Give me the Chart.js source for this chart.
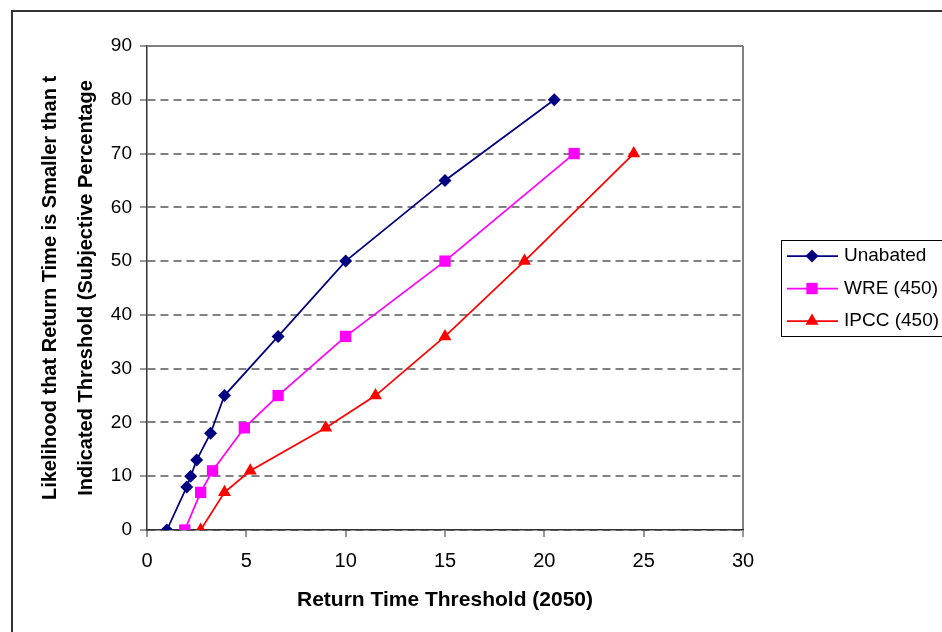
<!DOCTYPE html>
<html>
<head>
<meta charset="utf-8">
<script src="https://cdn.jsdelivr.net/npm/chart.js@4/dist/chart.umd.min.js"></script>
<style>
  html, body { margin: 0; padding: 0; background: #fff; overflow: hidden; }
  #wrap { position: relative; width: 942px; height: 632px; overflow: hidden; }
  #frame { position: absolute; left: 11px; top: 10px; width: 1000px; height: 1000px; border: 2px solid #333; }
  #chart { position: absolute; left: 0; top: 0; }
</style>
</head>
<body>
<div id="wrap">
  <div id="frame"></div>
  <canvas id="chart" width="942" height="632"></canvas>
</div>
<script>
const seriesNames = ['Unabated', 'WRE (450)', 'IPCC (450)'];

const unabatedX = [1, 2, 2.2, 2.5, 3.2, 3.9, 6.6, 10, 15, 20.5];
const unabatedY = [0, 8, 10, 13, 18, 25, 36, 50, 65, 80];

const wreX = [1.9, 2.7, 3.3, 4.9, 6.6, 10, 15, 21.5];
const wreY = [0, 7, 11, 19, 25, 36, 50, 70];

const ipccX = [2.7, 3.9, 5.2, 9, 11.5, 15, 19, 24.5];
const ipccY = [0, 7, 11, 19, 25, 36, 50, 70];

const xTitle = 'Return Time Threshold (2050)';
const yTitle = ['Likelihood that Return Time is Smaller than t',
                'Indicated Threshold (Subjective Percentage'];

function toPoints(xs, ys) {
  return xs.map((x, i) => ({x: x, y: ys[i]}));
}

// legend drawn in a box at the right, partly cut by the page edge
const boxLegend = {
  id: 'boxLegend',
  afterDraw(chart) {
    const ctx = chart.ctx;
    ctx.save();
    ctx.strokeStyle = '#000';
    ctx.lineWidth = 1;
    ctx.strokeRect(781.5, 240.5, 200, 96);
    chart.data.datasets.forEach((ds, i) => {
      const y = 256 + i * 32.5;
      ctx.strokeStyle = ds.borderColor;
      ctx.lineWidth = ds.borderWidth;
      ctx.beginPath();
      ctx.moveTo(787, y);
      ctx.lineTo(838, y);
      ctx.stroke();
      ctx.fillStyle = ds.backgroundColor;
      Chart.helpers.drawPoint(ctx, {
        pointStyle: ds.pointStyle, radius: ds.pointRadius, rotation: 0, borderWidth: 0
      }, 812, y);
      ctx.fillStyle = '#000';
      ctx.font = '19px "Liberation Sans", Arial, sans-serif';
      ctx.textBaseline = 'middle';
      ctx.textAlign = 'left';
      ctx.fillText(ds.label, 844, y);
    });
    ctx.restore();
  }
};

const lineSet = (label, pts, color, style, r) => ({
  label: label,
  data: pts,
  borderColor: color,
  backgroundColor: color,
  borderWidth: 1.75,
  pointStyle: style,
  pointRadius: r,
  pointBorderWidth: 0,
  pointBackgroundColor: color,
  tension: 0
});

new Chart(document.getElementById('chart'), {
  type: 'line',
  data: {
    datasets: [
      lineSet(seriesNames[0], toPoints(unabatedX, unabatedY), '#000080', 'rectRot', 6.5),
      lineSet(seriesNames[1], toPoints(wreX, wreY), '#FF00FF', 'rect', 8),
      lineSet(seriesNames[2], toPoints(ipccX, ipccY), '#FF0000', 'triangle', 7.5)
    ]
  },
  options: {
    responsive: false,
    animation: false,
    layout: { padding: { left: 12, right: 199, top: 46, bottom: 0 } },
    plugins: {
      legend: { display: false },
      tooltip: { enabled: false }
    },
    scales: {
      x: {
        type: 'linear',
        min: 0,
        max: 30,
        afterFit(scale) { scale.height = 102; },
        ticks: {
          stepSize: 5,
          padding: 12,
          color: '#000',
          font: { family: '"Liberation Sans", Arial, sans-serif', size: 20 }
        },
        grid: {
          color: (c) => c.tick && c.tick.value === 30 ? '#808080' : 'rgba(0,0,0,0)',
          lineWidth: 2,
          tickLength: 7,
          tickColor: '#333',
          tickWidth: 1
        },
        border: { color: '#333', width: 1.5 },
        title: {
          display: true,
          text: xTitle,
          color: '#000',
          padding: { top: 0, bottom: 19 },
          font: { family: '"Liberation Sans", Arial, sans-serif', size: 21, weight: 'bold', lineHeight: 1.2 }
        }
      },
      y: {
        min: 0,
        max: 90,
        afterFit(scale) { scale.width = 135; },
        ticks: {
          stepSize: 10,
          padding: 8,
          color: '#000',
          font: { family: '"Liberation Sans", Arial, sans-serif', size: 19 }
        },
        grid: {
          color: '#808080',
          lineWidth: 2,
          tickLength: 7,
          tickColor: '#333',
          tickWidth: 1
        },
        border: {
          color: '#333',
          width: 1.5,
          dash: (c) => c.tick && c.tick.value === 90 ? [] : [8, 5]
        },
        title: {
          display: true,
          text: yTitle,
          color: '#000',
          padding: { top: 20, bottom: 0 },
          font: { family: '"Liberation Sans", Arial, sans-serif', size: 20, weight: 'bold', lineHeight: 1.8 }
        }
      }
    }
  },
  plugins: [boxLegend]
});
</script>
</body>
</html>
